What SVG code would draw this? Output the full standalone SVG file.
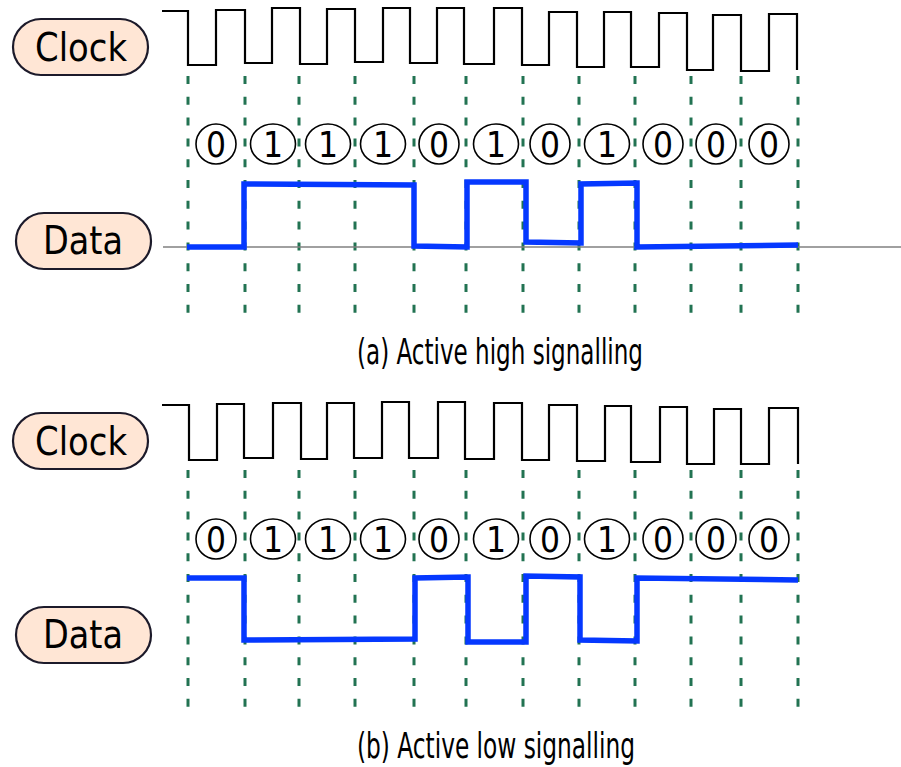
<svg xmlns="http://www.w3.org/2000/svg" width="901" height="767" viewBox="0 0 901 767">
<style>
.pill{fill:#ffe6d5;stroke:#1c1a2a;stroke-width:2.2}
.lbl{font-family:"DejaVu Sans Condensed","DejaVu Sans",sans-serif;font-stretch:condensed;font-size:39px;fill:#000}
.clk{fill:none;stroke:#000;stroke-width:2.2;stroke-linejoin:miter}
.dat{fill:none;stroke:#0538ff;stroke-width:5.5;stroke-linejoin:miter;stroke-linecap:butt}
.base{fill:none;stroke:#808080;stroke-width:1.5}
.dash{fill:none;stroke:#227352;stroke-width:3;stroke-dasharray:8 12.8}
.bit{fill:#fff;stroke:#000;stroke-width:1.6}
.dig{font-family:"DejaVu Sans Condensed","DejaVu Sans",sans-serif;font-stretch:condensed;font-size:35px;text-anchor:middle;fill:#000}
.cap{font-family:"DejaVu Sans Condensed","DejaVu Sans",sans-serif;font-stretch:condensed;font-size:35px;fill:#000}
</style>
<defs>
<g id="dashes">
<path class="dash" d="M188,76V318M245,76V318M299,76V318M355,76V318M414,76V318M466,76V318M523,76V318M579,76V318M635,76V318M691,76V318M741,76V318M798,76V318"/>
</g>
<g id="bits">
<ellipse class="bit" cx="216" cy="0" rx="20" ry="20"/>
<ellipse class="bit" cx="273" cy="0" rx="22.5" ry="20"/>
<ellipse class="bit" cx="328" cy="0" rx="22.5" ry="20"/>
<ellipse class="bit" cx="383" cy="0" rx="22.5" ry="20"/>
<ellipse class="bit" cx="439" cy="0" rx="20" ry="20"/>
<ellipse class="bit" cx="496" cy="0" rx="22.5" ry="20"/>
<ellipse class="bit" cx="550" cy="0" rx="20" ry="20"/>
<ellipse class="bit" cx="607" cy="0" rx="22.5" ry="20"/>
<ellipse class="bit" cx="663" cy="0" rx="20" ry="20"/>
<ellipse class="bit" cx="716" cy="0" rx="20" ry="20"/>
<ellipse class="bit" cx="769" cy="0" rx="20" ry="20"/>
<text class="dig" x="216" y="13">0</text>
<text class="dig" x="273" y="13">1</text>
<text class="dig" x="328" y="13">1</text>
<text class="dig" x="383" y="13">1</text>
<text class="dig" x="439" y="13">0</text>
<text class="dig" x="496" y="13">1</text>
<text class="dig" x="550" y="13">0</text>
<text class="dig" x="607" y="13">1</text>
<text class="dig" x="663" y="13">0</text>
<text class="dig" x="716" y="13">0</text>
<text class="dig" x="769" y="13">0</text>
</g>
</defs>
<g id="connectors">
<use href="#dashes"/>
<use href="#dashes" transform="translate(0,394)"/>
<path class="base" d="M163,247H901"/>
</g>
<g id="panel-a">
<g id="clock-label-a"><rect class="pill" x="13" y="19" width="135" height="56" rx="28"/><text class="lbl" x="35" y="61" textLength="92" lengthAdjust="spacingAndGlyphs">Clock</text></g>
<g id="data-label-a"><rect class="pill" x="16" y="213" width="135" height="56" rx="28"/><text class="lbl" x="43" y="254" textLength="80" lengthAdjust="spacingAndGlyphs">Data</text></g>
<g id="clock-wave-a"><path class="clk" d="M162,11H188V65H216V10H245V63H272V8H300V64H327V9H355V62H383V8H410V63H437V8H464V64H494V8H522V65H549V12H577V67H604V12H631V67H659V13H687V70H713V15H741V71H769V14H797V70"/></g>
<g id="bits-a"><use href="#bits" transform="translate(0,144)"/></g>
<g id="data-wave-a"><path class="dat" d="M187,247L244,247L244,184L414,185L414,246L467,247L467,182L526,182L526,242L581,243L581,184L637,183L637,247L798,245"/></g>
<g id="caption-a"><text class="cap" x="357" y="364" textLength="286" lengthAdjust="spacingAndGlyphs">(a) Active high signalling</text></g>
</g>
<g id="panel-b">
<g id="clock-label-b"><rect class="pill" x="13" y="413" width="135" height="56" rx="28"/><text class="lbl" x="35" y="455" textLength="92" lengthAdjust="spacingAndGlyphs">Clock</text></g>
<g id="data-label-b"><rect class="pill" x="16" y="607" width="135" height="56" rx="28"/><text class="lbl" x="43" y="648" textLength="80" lengthAdjust="spacingAndGlyphs">Data</text></g>
<g id="clock-wave-b"><path class="clk" d="M162,405H189V460H217V404H244V458H273V403H301V459H327V403H354V458H382V402H409V458H438V402H465V459H494V403H522V460H549V405H577V461H605V406H631V462H660V407H687V464H714V409H741V464H769V408H798V464"/></g>
<g id="bits-b"><use href="#bits" transform="translate(0,539)"/></g>
<g id="data-wave-b"><path class="dat" d="M187,578L244,578L244,640L415,639L415,578L468,577L468,642L526,642L526,576L580,577L580,640L637,641L637,578L798,580"/></g>
<g id="caption-b"><text class="cap" x="357" y="758" textLength="278" lengthAdjust="spacingAndGlyphs">(b) Active low signalling</text></g>
</g>
</svg>
